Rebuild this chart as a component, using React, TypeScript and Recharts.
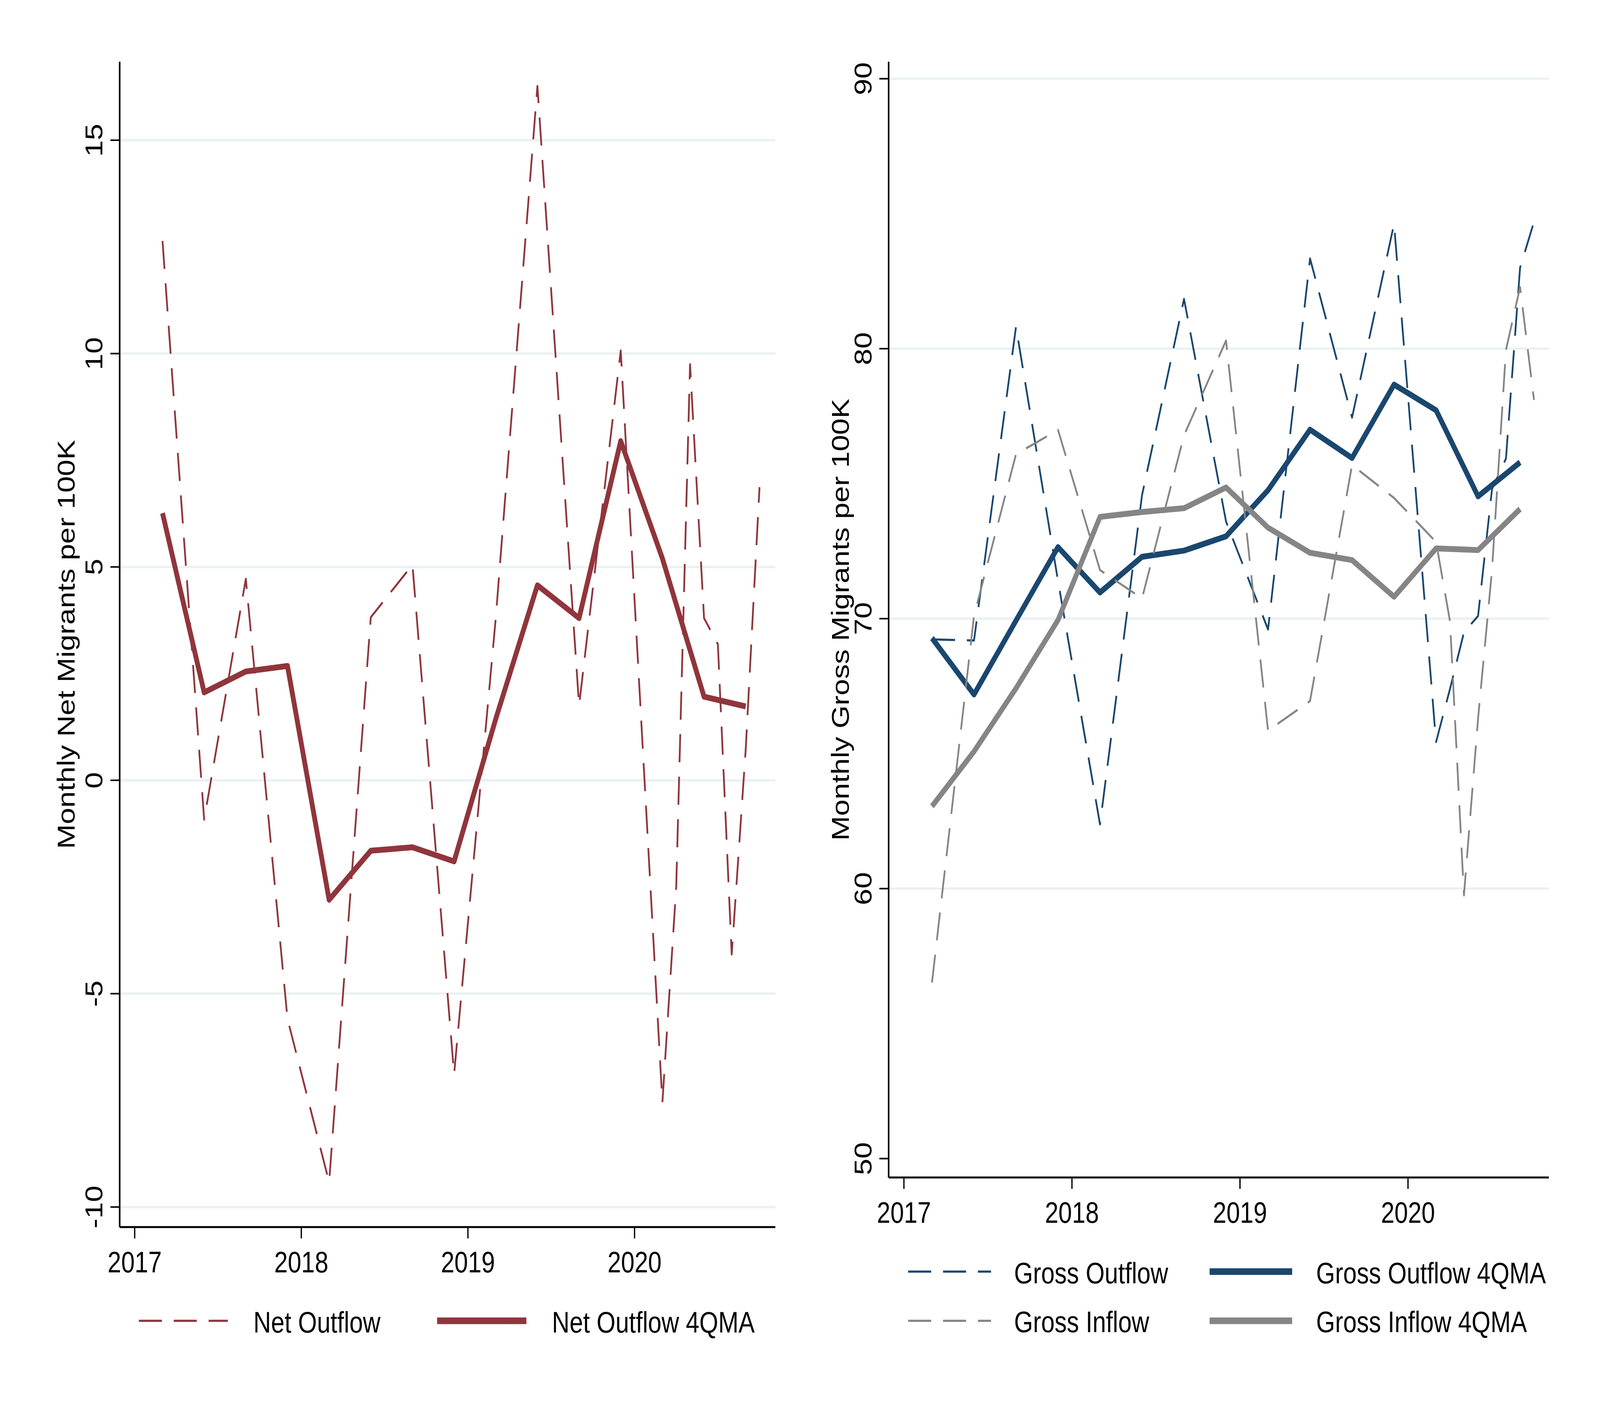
import React from 'react'
import { CartesianGrid, Legend, Line, LineChart, XAxis, YAxis } from 'recharts'

// dates as decimal years (last month of each quarter; monthly through 2020)
const flowDates = [
  2017.167, 2017.417, 2017.667, 2017.917, 2018.167, 2018.417, 2018.667, 2018.917,
  2019.167, 2019.417, 2019.667, 2019.917, 2020.167, 2020.25, 2020.333, 2020.417,
  2020.5, 2020.583, 2020.667, 2020.75,
]
const maDates = [
  2017.167, 2017.417, 2017.667, 2017.917, 2018.167, 2018.417, 2018.667, 2018.917,
  2019.167, 2019.417, 2019.667, 2019.917, 2020.167, 2020.417, 2020.667,
]

const netOutflow = [
  12.64, -0.92, 4.72, -5.59, -9.42, 3.82, 5.05, -6.89, 3.8, 16.27, 1.75, 10.07,
  -7.55, -2.5, 9.75, 3.8, 3.19, -4.08, 0.72, 6.87,
]
const netOutflowMA = [6.26, 2.06, 2.55, 2.68, -2.8, -1.65, -1.57, -1.9, 1.44, 4.57, 3.8, 7.95, 5.2, 1.96, 1.73]

const grossOutflow = [
  69.23, 69.19, 80.81, 71.4, 62.38, 74.57, 81.84, 73.6, 69.6, 83.34, 77.45, 84.62,
  65.43, 67.4, 69.49, 70.1, 74.8, 75.93, 83.0, 84.7,
]
const grossInflow = [
  56.52, 70.1, 76.09, 76.99, 71.8, 70.75, 76.79, 80.3, 65.85, 66.95, 75.69, 74.47,
  72.84, 69.9, 59.75, 66.3, 71.8, 79.95, 82.28, 78.1,
]
const grossOutflowMA = [69.28, 67.19, 69.93, 72.65, 70.97, 72.29, 72.52, 73.05, 74.76, 77.0, 75.95, 78.67, 77.72, 74.53, 75.79]
const grossInflowMA = [63.05, 65.08, 67.42, 69.95, 73.77, 73.95, 74.09, 74.86, 73.37, 72.44, 72.17, 70.81, 72.6, 72.54, 74.06]

const yearTicks = [2017, 2018, 2019, 2020]
const netTicks = [-10, -5, 0, 5, 10, 15]
const grossTicks = [50, 60, 70, 80, 90]
const grossGrid = [60, 70, 80, 90]

const CRANBERRY = '#90353b'
const NAVY = '#1a476f'
const GRAY = '#858585'
const GRID = '#eaf1f3'
const FONT = "'Liberation Sans', Arial, Helvetica, sans-serif"
const FS = 76
const DASH = '72 37'
const SOLID_W = 15
const DASH_W = 5.5
const LEG_TOP = 3150

// the figure is laid out on a 5000 x 3636 canvas
const PAGE_W = 5000
const PAGE_H = 3636

const maAt = (ys: number[], t: number) => {
  const q = maDates.indexOf(t)
  return q >= 0 ? ys[q] : null
}

const netTable = flowDates.map((t, i) => ({
  t,
  net: netOutflow[i],
  netMA: maAt(netOutflowMA, t),
}))

const grossTable = flowDates.map((t, i) => ({
  t,
  out: grossOutflow[i],
  outMA: maAt(grossOutflowMA, t),
  inn: grossInflow[i],
  innMA: maAt(grossInflowMA, t),
}))

type Series = { key: string; name: string; color: string; dashed: boolean }

const netSeries: Series[] = [
  { key: 'net', name: 'Net Outflow', color: CRANBERRY, dashed: true },
  { key: 'netMA', name: 'Net Outflow 4QMA', color: CRANBERRY, dashed: false },
]
const grossSeries: Series[] = [
  { key: 'out', name: 'Gross Outflow', color: NAVY, dashed: true },
  { key: 'outMA', name: 'Gross Outflow 4QMA', color: NAVY, dashed: false },
  { key: 'inn', name: 'Gross Inflow', color: GRAY, dashed: true },
  { key: 'innMA', name: 'Gross Inflow 4QMA', color: GRAY, dashed: false },
]

function RotatedTick(props: any) {
  const { x, y, payload } = props
  const bx = x - 25
  return (
    <text x={bx} y={y} transform={`rotate(-90 ${bx} ${y})`} textAnchor="middle" fontSize={FS} fontFamily={FONT} fill="#000">
      {payload.value}
    </text>
  )
}

const axisTitle = (text: string, baseX: number) => (props: any) => {
  const vb = props.viewBox || {}
  const cy = vb.height ? vb.y + vb.height / 2 : 1650
  return (
    <text x={baseX} y={cy} transform={`rotate(-90 ${baseX} ${cy})`} textAnchor="middle" fontSize={FS} fontFamily={FONT} fill="#000">
      {text}
    </text>
  )
}

// legend drawn Stata-style: sample line then label, laid out on a fixed grid
type LegendLayout = { cols: { x1: number; x2: number; tx: number }[]; rows: { ly: number; ty: number }[] }

const legendContent = (items: Series[], lay: LegendLayout) => () => (
  <svg width={2500} height={400} style={{ display: 'block' }}>
    {items.map((s, i) => {
      const c = lay.cols[i % lay.cols.length]
      const r = lay.rows[Math.floor(i / lay.cols.length)]
      return (
        <g key={s.key}>
          <line
            x1={c.x1}
            x2={c.x2}
            y1={r.ly - LEG_TOP}
            y2={r.ly - LEG_TOP}
            stroke={s.color}
            strokeWidth={s.dashed ? DASH_W : 17}
            strokeDasharray={s.dashed ? DASH : undefined}
          />
          <text x={c.tx} y={r.ty - LEG_TOP} fontSize={FS} fontFamily={FONT} fill="#000">
            {s.name}
          </text>
        </g>
      )
    })}
  </svg>
)

const netLegend: LegendLayout = {
  cols: [
    { x1: 434, x2: 712, tx: 792 },
    { x1: 1366, x2: 1645, tx: 1725 },
  ],
  rows: [{ ly: 3382, ty: 3412 }],
}
const grossLegend: LegendLayout = {
  cols: [
    { x1: 338, x2: 597, tx: 669 },
    { x1: 1280, x2: 1538, tx: 1613 },
  ],
  rows: [
    { ly: 3256, ty: 3286 },
    { ly: 3382, ty: 3411 },
  ],
}

const axisLine = { stroke: '#000', strokeWidth: 5 }
const tickLine = { stroke: '#000', strokeWidth: 4 }
const xTick = { fill: '#000', fontSize: FS, fontFamily: FONT }

function renderLines(series: Series[]) {
  return series.map((s) => (
    <Line
      key={s.key}
      dataKey={s.key}
      name={s.name}
      type="linear"
      stroke={s.color}
      strokeWidth={s.dashed ? DASH_W : SOLID_W}
      strokeDasharray={s.dashed ? DASH : undefined}
      strokeLinejoin="round"
      dot={false}
      activeDot={false}
      connectNulls
      isAnimationActive={false}
    />
  ))
}

function NetChart() {
  return (
    <LineChart width={2500} height={3636} data={netTable} margin={{ top: 158, right: 77, bottom: 394, left: 174 }}>
      <CartesianGrid vertical={false} stroke={GRID} strokeWidth={6} horizontalValues={netTicks} />
      <XAxis
        dataKey="t"
        type="number"
        domain={[2016.91, 2020.845]}
        ticks={yearTicks}
        allowDataOverflow
        interval={0}
        height={100}
        tickSize={29}
        tickMargin={33}
        axisLine={axisLine}
        tickLine={tickLine}
        tick={xTick}
      />
      <YAxis
        type="number"
        domain={[-10.47, 16.84]}
        ticks={netTicks}
        allowDataOverflow
        interval={0}
        width={200}
        tickSize={29}
        tickMargin={0}
        axisLine={axisLine}
        tickLine={tickLine}
        tick={<RotatedTick />}
        label={{ content: axisTitle('Monthly Net Migrants per 100K', 233) }}
      />
      {renderLines(netSeries)}
      <Legend
        layout="vertical"
        align="center"
        verticalAlign="middle"
        wrapperStyle={{ left: 0, top: LEG_TOP, width: 2500, height: 400 }}
        content={legendContent(netSeries, netLegend)}
      />
    </LineChart>
  )
}

function GrossChart() {
  return (
    <LineChart width={2500} height={3636} data={grossTable} margin={{ top: 158, right: 160, bottom: 521, left: 77 }}>
      <CartesianGrid vertical={false} stroke={GRID} strokeWidth={6} horizontalValues={grossGrid} />
      <XAxis
        dataKey="t"
        type="number"
        domain={[2016.909, 2020.838]}
        ticks={yearTicks}
        allowDataOverflow
        interval={0}
        height={100}
        tickSize={29}
        tickMargin={33}
        axisLine={axisLine}
        tickLine={tickLine}
        tick={xTick}
      />
      <YAxis
        type="number"
        domain={[49.3, 90.63]}
        ticks={grossTicks}
        allowDataOverflow
        interval={0}
        width={200}
        tickSize={29}
        tickMargin={0}
        axisLine={axisLine}
        tickLine={tickLine}
        tick={<RotatedTick />}
        label={{ content: axisTitle('Monthly Gross Migrants per 100K', 153) }}
      />
      {renderLines(grossSeries)}
      <Legend
        layout="vertical"
        align="center"
        verticalAlign="middle"
        wrapperStyle={{ left: 0, top: LEG_TOP, width: 2500, height: 400 }}
        content={legendContent(grossSeries, grossLegend)}
      />
    </LineChart>
  )
}

export default function App() {
  // the browser may hand us a narrower viewport than the 5000px canvas; fit the figure into it
  const vw = typeof window !== 'undefined' ? window.innerWidth : PAGE_W
  const vh = typeof window !== 'undefined' ? window.innerHeight : PAGE_H
  const sx = Math.min(1, vw / PAGE_W)
  const sy = Math.min(1, vh / PAGE_H)
  return (
    <div style={{ position: 'absolute', left: 0, top: 0, width: PAGE_W * sx, height: PAGE_H * sy, overflow: 'hidden', background: '#fff' }}>
      <div
        style={{
          position: 'absolute',
          left: 0,
          top: 0,
          width: PAGE_W,
          height: PAGE_H,
          transform: `scale(${sx}, ${sy})`,
          transformOrigin: '0 0',
        }}
      >
        <div style={{ position: 'absolute', left: 0, top: 0 }}>
          <NetChart />
        </div>
        <div style={{ position: 'absolute', left: 2500, top: 0 }}>
          <GrossChart />
        </div>
      </div>
    </div>
  )
}
